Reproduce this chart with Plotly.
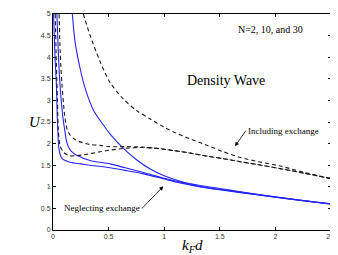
import plotly.graph_objects as go

# ---- data ----
# Neglecting exchange (solid blue), three curves
blue_a_x = [0.005, 0.018, 0.030, 0.038, 0.045, 0.055, 0.08, 0.153, 0.25, 0.333, 0.514, 0.65, 0.814, 1.0, 1.144, 1.3, 1.5, 1.7, 2.0, 2.25, 2.5]
blue_a_u = [5.0, 4.0, 3.4, 2.65, 2.2, 1.85, 1.66, 1.57, 1.53, 1.50, 1.44, 1.38, 1.30, 1.18, 1.09, 1.01, 0.93, 0.86, 0.76, 0.68, 0.60]

blue_b_x = [0.035, 0.048, 0.062, 0.087, 0.108, 0.123, 0.15, 0.183, 0.213, 0.333, 0.514, 0.65, 0.814, 1.0, 1.144, 1.3, 1.5, 1.7, 2.0, 2.25, 2.5]
blue_b_u = [5.0, 4.1, 3.41, 2.65, 2.27, 2.04, 1.87, 1.78, 1.73, 1.61, 1.53, 1.44, 1.33, 1.20, 1.11, 1.02, 0.94, 0.87, 0.76, 0.68, 0.60]

blue_c_x = [0.174, 0.198, 0.243, 0.288, 0.363, 0.453, 0.514, 0.633, 0.754, 0.874, 0.994, 1.144, 1.3, 1.5, 1.7, 2.0, 2.25, 2.5]
blue_c_u = [5.0, 4.36, 3.75, 3.29, 2.78, 2.43, 2.22, 1.89, 1.62, 1.41, 1.26, 1.13, 1.04, 0.96, 0.88, 0.77, 0.68, 0.61]

# Including exchange (dashed black), three curves
dash_a_x = [0.02, 0.03, 0.04, 0.048, 0.063, 0.085, 0.108, 0.153, 0.2, 0.273, 0.423, 0.514, 0.65, 0.8, 0.934, 1.084, 1.234, 1.385, 1.534, 1.685, 1.85, 2.045, 2.25, 2.5]
dash_a_u = [5.0, 3.9, 3.0, 2.3, 1.96, 1.83, 1.77, 1.72, 1.72, 1.74, 1.81, 1.85, 1.89, 1.91, 1.89, 1.84, 1.78, 1.71, 1.65, 1.58, 1.51, 1.42, 1.32, 1.19]

dash_b_x = [0.055, 0.065, 0.08, 0.105, 0.125, 0.153, 0.2, 0.243, 0.333, 0.423, 0.514, 0.65, 0.8, 0.934, 1.084, 1.234, 1.385, 1.534, 1.685, 1.85, 2.045, 2.25, 2.5]
dash_b_u = [5.0, 4.1, 3.4, 2.65, 2.35, 2.2, 2.09, 2.04, 1.98, 1.96, 1.93, 1.93, 1.92, 1.89, 1.84, 1.78, 1.71, 1.65, 1.58, 1.51, 1.42, 1.32, 1.19]

dash_c_x = [0.273, 0.333, 0.423, 0.514, 0.633, 0.754, 0.874, 1.0, 1.084, 1.234, 1.385, 1.534, 1.685, 1.85, 2.045, 2.25, 2.5]
dash_c_u = [5.0, 4.51, 3.90, 3.41, 3.03, 2.76, 2.57, 2.38, 2.27, 2.11, 1.96, 1.81, 1.68, 1.58, 1.48, 1.34, 1.19]

x_ticks = [0, 0.5, 1, 1.5, 2, 2.5]
x_tick_text = ["0", "0.5", "1", "1.5", "2", "2.5"]
y_ticks = [0, 0.5, 1, 1.5, 2, 2.5, 3, 3.5, 4, 4.5, 5]
y_tick_text = ["0", "0.5", "1", "1.5", "2", "2.5", "3", "3.5", "4", "4.5", "5"]

BLUE = "#2424ff"
BLACK = "#1a1a1a"
SERIF = "Liberation Serif, Times New Roman, serif"

fig = go.Figure()
for xs, us in [(blue_a_x, blue_a_u), (blue_b_x, blue_b_u), (blue_c_x, blue_c_u)]:
    fig.add_trace(go.Scatter(x=xs, y=us, mode="lines", line=dict(color=BLUE, width=1.1, shape="spline", smoothing=0.8),
                             showlegend=False, hoverinfo="skip", cliponaxis=True))
for xs, us in [(dash_a_x, dash_a_u), (dash_b_x, dash_b_u), (dash_c_x, dash_c_u)]:
    fig.add_trace(go.Scatter(x=xs, y=us, mode="lines", line=dict(color=BLACK, width=1.1, dash="4px,3px", shape="spline", smoothing=0.8),
                             showlegend=False, hoverinfo="skip", cliponaxis=True))

axis_common = dict(showline=True, linecolor="black", linewidth=1, mirror="ticks", ticks="inside", ticklen=3,
                   tickcolor="black", tickwidth=0.8, showgrid=False, zeroline=False, ticklabeloverflow="allow",
                   tickfont=dict(family="Liberation Sans, Arial, sans-serif", size=7, color="#333333"))

# page body adds an 8px margin, so the figure is 8px smaller and its margins shifted accordingly
fig.update_layout(
    width=330, height=247,
    margin=dict(l=45, r=7, t=2, b=25),
    paper_bgcolor="white", plot_bgcolor="white",
    xaxis=dict(range=[0, 2.5], tickvals=x_ticks, ticktext=x_tick_text, **axis_common),
    yaxis=dict(range=[0, 5], tickvals=y_ticks, ticktext=y_tick_text, **axis_common),
    annotations=[
        dict(text="N=2, 10, and 30", x=1.65, y=4.65, xref="x", yref="y", xanchor="left", yanchor="middle",
             showarrow=False, font=dict(family=SERIF, size=10, color="black")),
        dict(text="Density Wave", x=1.187, y=3.47, xref="x", yref="y", xanchor="left", yanchor="middle",
             showarrow=False, font=dict(family=SERIF, size=14, color="black")),
        dict(text="Including exchange", x=1.637, y=1.94, ax=1.735, ay=2.30, xref="x", yref="y", axref="x", ayref="y",
             xanchor="left", yanchor="middle", showarrow=True, arrowhead=2, arrowsize=1, arrowwidth=0.8,
             arrowcolor="black", font=dict(family=SERIF, size=9, color="black")),
        dict(text="Neglecting exchange", x=0.992, y=1.01, ax=0.80, ay=0.50, xref="x", yref="y", axref="x", ayref="y",
             xanchor="right", yanchor="middle", showarrow=True, arrowhead=2, arrowsize=1, arrowwidth=0.8,
             arrowcolor="black", font=dict(family=SERIF, size=9, color="black")),
        dict(text="<i>U</i>", x=-0.065, y=0.5, xref="paper", yref="paper", xanchor="center", yanchor="middle",
             showarrow=False, font=dict(family=SERIF, size=15, color="black")),
        dict(text="<i>k</i><sub><i>F</i></sub><i>d</i>", x=0.5, y=-0.075, xref="paper", yref="paper",
             xanchor="center", yanchor="middle", showarrow=False, font=dict(family=SERIF, size=15, color="black")),
    ],
)

fig.write_html("out.html")
